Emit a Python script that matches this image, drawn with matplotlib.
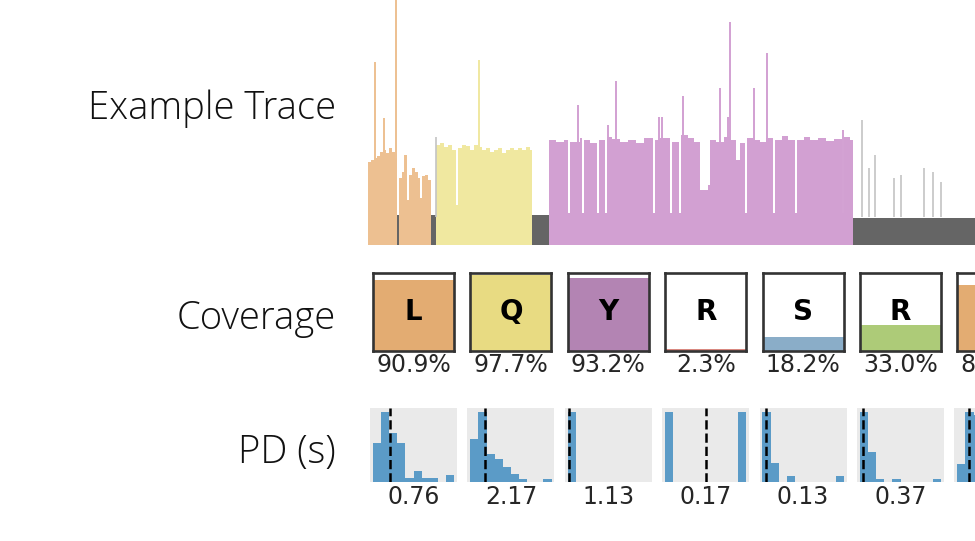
import matplotlib.pyplot as plt

W, H = 975, 541

# ---- example trace (time in arbitrary units, current above baseline) ----
orange1_t = [0, 3, 6, 9, 12, 15, 18, 21, 24, 27]
orange1_h = [83, 85, 87, 89, 93, 95, 92, 97, 93, 87]
orange2_t = [31, 34, 37, 39, 41, 44, 47, 50, 52, 54, 57, 60]
orange2_h = [67, 73, 90, 45, 70, 77, 73, 67, 47, 69, 70, 65]
yellow_t = [68, 72, 76, 80, 84, 88, 90, 94, 98, 102, 106, 110, 114, 118, 122,
            126, 130, 134, 138, 142, 146, 150, 154, 158, 162]
yellow_h = [100, 102, 98, 100, 95, 40, 97, 100, 99, 95, 100, 98, 95, 97, 93,
            95, 97, 92, 95, 97, 95, 97, 95, 98, 95]
purple_t = [181, 188, 196, 200, 202, 212, 214, 216, 222, 229, 231, 237, 239,
            244, 252, 260, 268, 276, 285, 287, 292, 302, 304, 311, 313, 320,
            326, 332, 340, 342, 348, 356, 362, 368, 372, 377, 379, 386, 392,
            398, 405, 407, 414, 420, 427, 429, 436, 442, 450, 458, 466, 474,
            476, 482]
purple_h = [105, 103, 105, 32, 103, 107, 32, 105, 102, 32, 105, 32, 108,
            106, 103, 105, 102, 107, 32, 105, 107, 32, 103, 32, 110, 107,
            103, 55, 60, 105, 103, 108, 105, 85, 102, 32, 107, 105, 103,
            107, 32, 105, 109, 105, 32, 105, 108, 105, 107, 104, 106, 32,
            108, 105]
seg_end = [29, 63, 164, 485]

gray_start = [29, 63, 164, 485]
gray_stop = [31, 68, 181, 620]
gray_level = [30, 30, 30, 27]

orange_spike_t = [7, 16, 28, 37]
orange_spike_h = [183, 127, 250, 90]
yellow_spike_t = [111]
yellow_spike_h = [185]
purple_spike_t = [210, 240, 248, 291, 294, 315, 352, 360, 362, 386, 399, 475]
purple_spike_h = [140, 120, 164, 128, 128, 149, 157, 128, 223, 157, 192, 115]
gray_spike_t = [68, 494, 501, 507, 526, 533, 556, 565, 573]
gray_spike_h = [108, 125, 77, 90, 67, 70, 77, 73, 63]

# ---- coverage ----
cov_letters = ['L', 'Q', 'Y', 'R', 'S', 'R', 'L']
cov_values = [90.9, 97.7, 93.2, 2.3, 18.2, 33.0, 84.1]
cov_colors = ['#E3AC72', '#E8DB82', '#B384B3', '#D98880', '#8AADC8',
              '#ADCB78', '#E3AC72']

# ---- pause durations (histogram counts per bin) ----
pd_counts = [
    [11, 20, 14, 11, 1, 3, 1, 1, 0, 2],
    [17, 28, 11, 9, 6, 3, 1, 0, 0, 1],
    [1, 0, 0, 0, 0, 0, 0, 0, 0, 0],
    [1, 0, 0, 0, 0, 0, 0, 0, 0, 1],
    [11, 3, 0, 1, 0, 0, 0, 0, 0, 1],
    [21, 9, 1, 0, 1, 0, 0, 0, 0, 1],
    [5, 20, 19, 8, 4, 2, 1, 0, 0, 1],
]
pd_lo = [0.1, 0.2, 1.12, 0.12, 0.1, 0.3, 0.2]
pd_hi = [3.2, 10.9, 1.62, 0.22, 0.71, 2.05, 3.0]
pd_median = [0.76, 2.17, 1.13, 0.17, 0.13, 0.37, 0.62]

TRACE_COLORS = {'orange': '#EDC091', 'yellow': '#F0E8A0', 'purple': '#D2A0D2',
                'gray': '#656565', 'light': '#C4C4C4'}


def px(x0, y0, w, h):
    """pixel box (top-left origin) -> figure fraction rect"""
    return [x0 / W, 1 - (y0 + h) / H, w / W, h / H]


fig = plt.figure(figsize=(W / 100, H / 100), dpi=100)

# row labels
label_kw = dict(ha='right', va='baseline', fontsize=27.5, color='#111111',
                family='Open Sans', fontweight='light')
fig.text(336 / W, 1 - 119 / H, 'Example Trace', **label_kw)
fig.text(336 / W, 1 - 329 / H, 'Coverage', **label_kw)
fig.text(336 / W, 1 - 463 / H, 'PD (s)', **label_kw)

# trace
ax = fig.add_axes(px(368, 0, W - 368, 250))
for gs, ge, gl in zip(gray_start, gray_stop, gray_level):
    ax.fill_between([gs, ge], 0, gl, color=TRACE_COLORS['gray'], lw=0)
for t, h, end, c in [(orange1_t, orange1_h, seg_end[0], 'orange'),
                     (orange2_t, orange2_h, seg_end[1], 'orange'),
                     (yellow_t, yellow_h, seg_end[2], 'yellow'),
                     (purple_t, purple_h, seg_end[3], 'purple')]:
    ax.fill_between(list(t) + [end], 0, list(h) + [h[-1]], step='post',
                    color=TRACE_COLORS[c], lw=0)
ax.vlines(orange_spike_t, 0, orange_spike_h, color=TRACE_COLORS['orange'], lw=1.4)
ax.vlines(yellow_spike_t, 0, yellow_spike_h, color=TRACE_COLORS['yellow'], lw=1.4)
ax.vlines(purple_spike_t, 0, purple_spike_h, color=TRACE_COLORS['purple'], lw=1.4)
ax.vlines(gray_spike_t, 28, gray_spike_h, color=TRACE_COLORS['light'], lw=1.2)
ax.set_xlim(0, W - 368)
ax.set_ylim(-5, 245)
ax.axis('off')

step = 97.4
for i in range(len(cov_letters)):
    cx = 413.5 + step * i
    on_canvas = cx + 25 < W  # last column is cut by the figure edge

    # coverage box
    bx = fig.add_axes(px(cx - 40.5, 273, 81, 78))
    bx.bar(0.5, cov_values[i] / 100, width=1, color=cov_colors[i], lw=0)
    bx.set_xlim(0, 1)
    bx.set_ylim(0, 1)
    bx.set_xticks([])
    bx.set_yticks([])
    for sp in bx.spines.values():
        sp.set_linewidth(1.9)
        sp.set_color('#333333')
    if on_canvas:
        bx.text(0.5, 0.5, cov_letters[i], ha='center', va='center',
                fontsize=20, fontweight='bold', color='black')
    fig.text(cx / W, 1 - 365 / H, f'{cov_values[i]:.1f}%', ha='center',
             va='center', fontsize=17, color='#262626')

    # pause duration histogram
    hx = fig.add_axes(px(cx - 43.5, 408, 87, 74))
    hx.set_facecolor('#EAEAEA')
    lo, hi = pd_lo[i], pd_hi[i]
    nb = len(pd_counts[i])
    bw = (hi - lo) / nb
    lefts = [lo + k * bw for k in range(nb)]
    hx.bar(lefts, pd_counts[i], width=bw, align='edge', color='#5B9BC7', lw=0)
    hx.axvline(pd_median[i], color='black', ls='--', lw=1.8)
    pad = 0.035 * (hi - lo)
    hx.set_xlim(lo - pad, hi + pad)
    hx.set_ylim(0, max(pd_counts[i]) * 1.05)
    hx.set_xticks([])
    hx.set_yticks([])
    for sp in hx.spines.values():
        sp.set_visible(False)
    if on_canvas:
        fig.text(cx / W, 1 - 497 / H, f'{pd_median[i]:.2f}', ha='center',
                 va='center', fontsize=17, color='#262626')

fig.savefig('out.png', dpi=100)
